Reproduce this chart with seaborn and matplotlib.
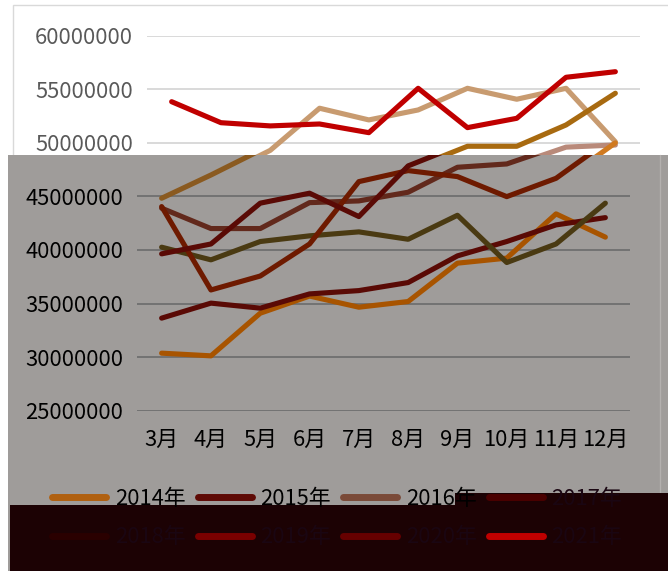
import matplotlib
matplotlib.use("Agg")
import matplotlib.pyplot as plt
import seaborn as sns
import pandas as pd
from matplotlib.patches import Rectangle
from matplotlib.lines import Line2D

# ---------------- data ----------------
months = ["3月", "4月", "5月", "6月", "7月", "8月", "9月", "10月", "11月", "12月"]
years = ["2014年", "2015年", "2016年", "2017年", "2018年", "2019年", "2020年", "2021年"]

v2014 = [30.37, 30.12, 34.1, 35.7, 34.66, 35.19, 38.77, 39.24, 43.37, 41.2]
v2015 = [33.64, 35.04, 34.57, 35.9, 36.21, 36.96, 39.45, 40.79, 42.34, 43.02]
v2016 = [43.9, 42.0, 42.0, 44.42, 44.58, 45.39, 47.72, 48.03, 49.6, 49.8]
v2017 = [44.83, 47.0, 49.3, 53.23, 52.14, 53.07, 55.09, 54.07, 55.09, 50.1]
v2018 = [40.26, 39.08, 40.79, 41.32, 41.69, 41.0, 43.24, 38.83, 40.56, 44.37]
v2019 = [44.05, 36.27, 37.57, 40.56, 46.38, 47.41, 46.85, 44.98, 46.69, 50.0]
v2020 = [39.64, 40.56, 44.37, 45.3, 43.12, 47.85, 49.68, 49.68, 51.67, 54.63]
v2021 = [53.84, 51.88, 51.58, 51.76, 50.95, 55.09, 51.42, 52.29, 56.12, 56.64]
series = [v2014, v2015, v2016, v2017, v2018, v2019, v2020, v2021]

yticks_top = [50000000, 55000000, 60000000]
yticks_bottom = [25000000, 30000000, 35000000, 40000000, 45000000]

rows = []
for yr, vals in zip(years, series):
    for m, v in zip(months, vals):
        rows.append({"month": m, "year": yr, "value": v * 1e6})
df = pd.DataFrame(rows)

# colours as they appear in the un-shaded (top) and shaded (bottom) parts
col_top = ["#c0701a", "#7a1a10", "#b98a7a", "#c89b70", "#6a5a30",
           "#d07a20", "#a86a10", "#c00000"]
col_bottom = ["#a85400", "#5a0a05", "#62291c", "#8a5a20", "#4a3a12",
              "#6e1a00", "#5a0a05", "#8a0000"]
col_legend = ["#b06010", "#5e0a05", "#7a4a38", "#4a0000", "#2a0000",
              "#7a0000", "#660000", "#c00000"]

# ---------------- figure ----------------
sns.set_theme(style="white")
plt.rcParams["font.family"] = ["Noto Sans CJK SC", "DejaVu Sans"]

W, H = 668, 571
fig = plt.figure(figsize=(W / 100, H / 100), dpi=100)
fig.patch.set_facecolor("white")


def fx(px):
    return px / W


def fy(py):
    return 1 - py / H


# chart border (top, white part)
fig.add_artist(Rectangle((fx(13), fy(565)), fx(670) - fx(13), (565 - 5) / H,
                         transform=fig.transFigure, fill=False,
                         edgecolor="#d9d9d9", lw=1, zorder=-5))
# shaded region
fig.add_artist(Rectangle((fx(8), 0), 1.0, fy(155), transform=fig.transFigure,
                         facecolor="#9f9c9a", edgecolor="none", zorder=-4))
fig.add_artist(Line2D([fx(660), fx(660)], [fy(492), fy(155)],
                      transform=fig.transFigure, color="#b3b0ae", lw=1,
                      zorder=-3))

clip_top = Rectangle((0, fy(155)), 1, 1, transform=fig.transFigure)
clip_bot = Rectangle((0, -0.1), 1, fy(155) + 0.1, transform=fig.transFigure)

ax_w = fig.add_axes([fx(147), fy(410.7), 493 / W, 375 / H])
ax_g = fig.add_axes([fx(137), fy(410.7), 493 / W, 375 / H])

for ax, cols, clip in ((ax_g, col_bottom, clip_bot), (ax_w, col_top, clip_top)):
    ax.set_facecolor("none")
    sns.lineplot(data=df, x="month", y="value", hue="year", hue_order=years,
                 palette=cols, sort=False, estimator=None, errorbar=None,
                 lw=3.7, legend=False, ax=ax)
    for ln in ax.get_lines():
        ln.set_clip_path(clip)
        ln.set_solid_capstyle("round")
        ln.set_solid_joinstyle("round")
    ax.set_xlim(-0.5, 9.5)
    ax.set_ylim(25000000, 60000000)
    for s in ax.spines.values():
        s.set_visible(False)
    ax.set_xlabel("")
    ax.set_ylabel("")

# top (unshaded) axis
ax_w.set_yticks(yticks_top)
ax_w.set_yticklabels([str(t) for t in yticks_top])
ax_w.grid(axis="y", color="#d9d9d9", lw=1.4)
ax_w.grid(axis="x", visible=False)
ax_w.tick_params(axis="y", length=0, pad=10, labelsize=15.8, labelcolor="#595959")
ax_w.tick_params(axis="x", length=0, labelbottom=False)

# bottom (shaded) axis
ax_g.set_yticks(yticks_bottom)
ax_g.set_yticklabels([str(t) for t in yticks_bottom])
ax_g.grid(axis="y", color="#727272", lw=1.4)
ax_g.grid(axis="x", visible=False)
ax_g.tick_params(axis="y", length=0, pad=10, labelsize=15.8, labelcolor="#000000")
ax_g.tick_params(axis="x", length=0, pad=13, labelsize=15.8, labelcolor="#000000")

# dark block at bottom
fig.add_artist(Rectangle((fx(10), 0), 1.0, fy(505), transform=fig.transFigure,
                         facecolor="#1c0204", edgecolor="none", zorder=3))
fig.add_artist(Rectangle((fx(455), 0), 1.0, fy(493), transform=fig.transFigure,
                         facecolor="#1c0204", edgecolor="none", zorder=3))

# legend (row-major order)
order = [0, 4, 1, 5, 2, 6, 3, 7]
handles = [Line2D([0], [0], color=col_legend[i], lw=5, solid_capstyle="round")
           for i in order]
labels = [years[i] for i in order]
leg = fig.legend(handles, labels, ncol=4, loc="center",
                 bbox_to_anchor=(0.505, fy(518)), frameon=False, fontsize=15.8,
                 handlelength=2.45, handletextpad=0.4, columnspacing=0.55,
                 labelspacing=0.75, labelcolor="#000000")
leg.set_zorder(5)
# texts that fall inside the dark block are barely visible
for i, t in zip(order, leg.get_texts()):
    if i >= 3:
        t.set_color("#1a0612")

fig.savefig("out.png", dpi=100)
